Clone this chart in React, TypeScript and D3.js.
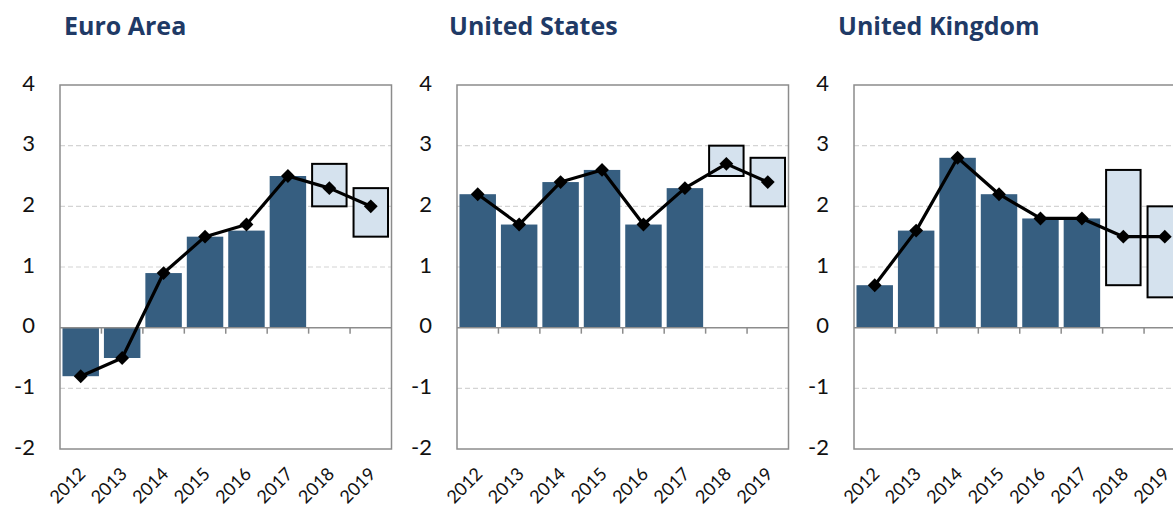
import * as d3 from 'd3';

const years = ['2012', '2013', '2014', '2015', '2016', '2017', '2018', '2019'];
const yTicks = [-2, -1, 0, 1, 2, 3, 4];
const gridTicks = [-1, 1, 2, 3];

// outturn bars (2012-2017)
const euroBars = [-0.8, -0.5, 0.9, 1.5, 1.6, 2.5];
const usBars = [2.2, 1.7, 2.4, 2.6, 1.7, 2.3];
const ukBars = [0.7, 1.6, 2.8, 2.2, 1.8, 1.8];

// line with diamonds (all years)
const euroLine = [-0.8, -0.5, 0.9, 1.5, 1.7, 2.5, 2.3, 2.0];
const usLine = [2.2, 1.7, 2.4, 2.6, 1.7, 2.3, 2.7, 2.4];
const ukLine = [0.7, 1.6, 2.8, 2.2, 1.8, 1.8, 1.5, 1.5];

// forecast ranges (2018, 2019)
const forecastYears = ['2018', '2019'];
const euroLow = [2.0, 1.5];
const euroHigh = [2.7, 2.3];
const usLow = [2.5, 2.0];
const usHigh = [3.0, 2.8];
const ukLow = [0.7, 0.5];
const ukHigh = [2.6, 2.0];

const panels = [
  { title: 'Euro Area', bars: euroBars, line: euroLine, low: euroLow, high: euroHigh, left: 60, titleX: 64 },
  { title: 'United States', bars: usBars, line: usLine, low: usLow, high: usHigh, left: 457, titleX: 449 },
  { title: 'United Kingdom', bars: ukBars, line: ukLine, low: ukLow, high: ukHigh, left: 854, titleX: 838 },
];

const W = 1173;
const H = 506;
const plotW = 331.5;
const top = 85;
const bottom = 449;
const font = 'Lato, "Open Sans", sans-serif';

const y = d3.scaleLinear().domain([-2, 4]).range([bottom, top]);
const x = d3.scaleBand<string>().domain(years).range([0, plotW]).paddingInner(0.12).paddingOuter(0.06);
const diamond = d3.symbol(d3.symbolSquare, 96)()!;

function Panel({ p }: { p: (typeof panels)[number] }) {
  const line = d3
    .line<number>()
    .x((_, i) => x(years[i])! + x.bandwidth() / 2)
    .y((d) => y(d));
  const step = x.step();
  return (
    <g transform={`translate(${p.left},0)`}>
      <text x={p.titleX - p.left} y={35} fontFamily='"Open Sans", sans-serif' fontWeight={700} fontSize={25} fill="#1f3a66">
        {p.title}
      </text>
      {gridTicks.map((t) => (
        <line key={t} x1={0} x2={plotW} y1={y(t)} y2={y(t)} stroke="#d4d4d4" strokeWidth={1.2} strokeDasharray="5,3" />
      ))}
      {yTicks.map((t) => (
        <text key={t} x={-25} y={y(t)} textAnchor="end" dominantBaseline="middle" fontFamily={font} fontSize={22} fill="#111">
          {t}
        </text>
      ))}
      {p.bars.map((v, i) => (
        <rect
          key={i}
          x={x(years[i])}
          width={x.bandwidth()}
          y={Math.min(y(v), y(0))}
          height={Math.abs(y(v) - y(0))}
          fill="#365e80"
        />
      ))}
      {forecastYears.map((yr, i) => (
        <rect
          key={yr}
          x={x(yr)! + 1}
          width={x.bandwidth() - 2}
          y={y(p.high[i])}
          height={y(p.low[i]) - y(p.high[i])}
          fill="#d5e2ee"
          stroke="#000"
          strokeWidth={2}
        />
      ))}
      <line x1={0} x2={plotW} y1={y(0)} y2={y(0)} stroke="#8c8c8c" strokeWidth={1.5} />
      {years.slice(1).map((_, i) => (
        <line key={i} x1={step * (i + 1)} x2={step * (i + 1)} y1={y(0)} y2={y(0) + 6} stroke="#8c8c8c" strokeWidth={1.5} />
      ))}
      <rect x={0} y={top} width={plotW} height={bottom - top} fill="none" stroke="#8c8c8c" strokeWidth={1.5} />
      <path d={line(p.line)!} fill="none" stroke="#000" strokeWidth={3.2} strokeLinejoin="round" />
      {p.line.map((v, i) => (
        <path
          key={i}
          d={diamond}
          transform={`translate(${x(years[i])! + x.bandwidth() / 2},${y(v)}) rotate(45)`}
          fill="#000"
        />
      ))}
      {years.map((yr) => (
        <text
          key={yr}
          transform={`translate(${x(yr)! + x.bandwidth() / 2 + 6},${bottom + 26}) rotate(-45)`}
          textAnchor="end"
          fontFamily={font}
          fontSize={18}
          fill="#111"
        >
          {yr}
        </text>
      ))}
    </g>
  );
}

export default function App() {
  return (
    <svg width={W} height={H} style={{ position: 'absolute', left: 0, top: 0, background: '#fff' }}>
      {panels.map((p) => (
        <Panel key={p.title} p={p} />
      ))}
    </svg>
  );
}
